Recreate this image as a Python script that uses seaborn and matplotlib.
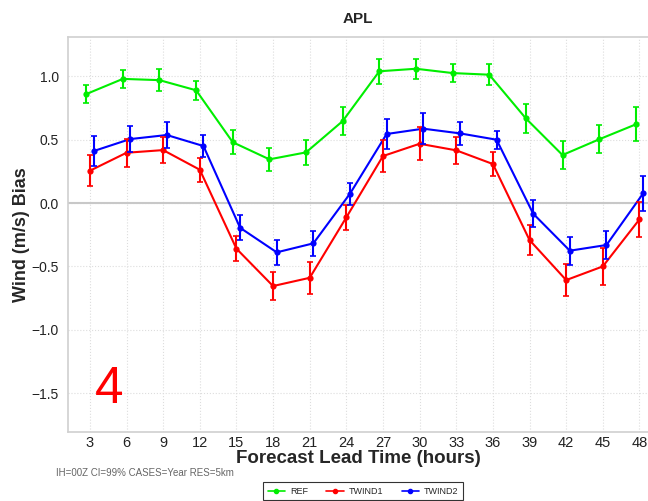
import numpy as np
import pandas as pd
import matplotlib
matplotlib.use("Agg")
import matplotlib.pyplot as plt
from matplotlib.legend_handler import HandlerLine2D
import seaborn as sns

# Forecast lead times and bias values
hours = [3, 6, 9, 12, 15, 18, 21, 24, 27, 30, 33, 36, 39, 42, 45, 48]
ref = [0.86, 0.98, 0.97, 0.89, 0.48, 0.345, 0.40, 0.647, 1.04, 1.06, 1.026, 1.013, 0.668, 0.379, 0.503, 0.621]
ref_err = [0.072, 0.068, 0.087, 0.074, 0.095, 0.091, 0.099, 0.108, 0.099, 0.08, 0.074, 0.083, 0.112, 0.113, 0.11, 0.135]
twind1 = [0.255, 0.397, 0.418, 0.263, -0.36, -0.655, -0.59, -0.113, 0.371, 0.468, 0.416, 0.308, -0.292, -0.608, -0.50, -0.129]
twind1_err = [0.121, 0.11, 0.105, 0.093, 0.10, 0.108, 0.124, 0.099, 0.126, 0.129, 0.104, 0.092, 0.116, 0.129, 0.145, 0.135]
twind2 = [0.41, 0.505, 0.537, 0.45, -0.195, -0.389, -0.318, 0.074, 0.545, 0.587, 0.55, 0.50, -0.084, -0.376, -0.331, 0.076]
twind2_err = [0.116, 0.105, 0.103, 0.087, 0.10, 0.096, 0.097, 0.088, 0.117, 0.122, 0.093, 0.072, 0.107, 0.11, 0.114, 0.141]

series = ["REF", "TWIND1", "TWIND2"]
colors = {"REF": "#00ee00", "TWIND1": "#ff0000", "TWIND2": "#0000ff"}
offsets = {"REF": -0.3, "TWIND1": 0.0, "TWIND2": 0.3}

rows = []
for name, vals, errs in [("REF", ref, ref_err), ("TWIND1", twind1, twind1_err), ("TWIND2", twind2, twind2_err)]:
    for h, v, e in zip(hours, vals, errs):
        rows.append({"series": name, "hour": h + offsets[name], "bias": v, "err": e})
df = pd.DataFrame(rows)

sns.set_style("white")
plt.rcParams["font.family"] = ["Liberation Sans", "DejaVu Sans"]

fig = plt.figure(figsize=(6.48, 5.01), dpi=100)
ax = fig.add_axes([0.1057, 0.1377, 0.8943, 0.7883])

ax.axhline(0, color="#c8c8c8", lw=1.5, zorder=1)

sns.lineplot(data=df, x="hour", y="bias", hue="series", palette=colors,
             hue_order=series, marker="o", markersize=4.5, markeredgewidth=0,
             linewidth=1.5, ax=ax, legend=False, zorder=3)

for name in series:
    sub = df[df["series"] == name]
    ax.errorbar(sub["hour"], sub["bias"], yerr=sub["err"], fmt="none",
                ecolor=colors[name], elinewidth=1.5, capsize=2.5, capthick=1.2, zorder=3)

ax.set_xlim(1.25, 48.7)
ax.set_ylim(-1.807, 1.31)
ax.set_xticks(hours)
ax.set_yticks([-1.5, -1.0, -0.5, 0.0, 0.5, 1.0])
ax.set_yticklabels(["\u22121.5", "\u22121.0", "\u22120.5", "0.0", "0.5", "1.0"])
ax.tick_params(axis="both", length=0, labelsize=10.5, colors="#222222")
ax.tick_params(axis="x", pad=3)
ax.tick_params(axis="y", labelsize=10, pad=7)
ax.grid(True, color="#dddddd", linestyle=":", linewidth=0.8)
ax.set_axisbelow(True)

for side in ["left", "bottom", "top"]:
    ax.spines[side].set_color("#d0d0d0")
    ax.spines[side].set_linewidth(1.2)
ax.spines["right"].set_visible(False)

ax.set_title("APL", fontsize=11, fontweight="bold", pad=10)
ax.set_xlabel("Forecast Lead Time (hours)", fontsize=13.5, fontweight="bold", labelpad=0)
ax.set_ylabel("Wind (m/s) Bias", fontsize=13, fontweight="bold")
ax.yaxis.set_label_coords(-0.067, 0.5)

ax.text(4.6, -1.47, "4", color="red", fontsize=37, ha="center", va="center")

fig.text(0.086, 0.055, "IH=00Z CI=99% CASES=Year RES=5km", fontsize=7, color="#666666", ha="left", va="center")


class EndMarkerHandler(HandlerLine2D):
    # marker at the right end of the legend line
    def get_xdata(self, legend, xdescent, ydescent, width, height, fontsize):
        xdata, _ = super().get_xdata(legend, xdescent, ydescent, width, height, fontsize)
        return xdata, np.array([xdata[-1]])


handles = [plt.Line2D([0], [0], color=colors[n], lw=1.2, marker="o", markersize=3) for n in series]
leg = fig.legend(handles, series, loc="center", bbox_to_anchor=(0.5605, 0.019), ncol=3,
                 fontsize=6.5, frameon=True, fancybox=False, edgecolor="black",
                 handlelength=1.9, columnspacing=2.0, borderpad=0.5, handletextpad=0.6,
                 handler_map={plt.Line2D: EndMarkerHandler()})
leg.get_frame().set_linewidth(0.8)

fig.savefig("out.png", dpi=100)
